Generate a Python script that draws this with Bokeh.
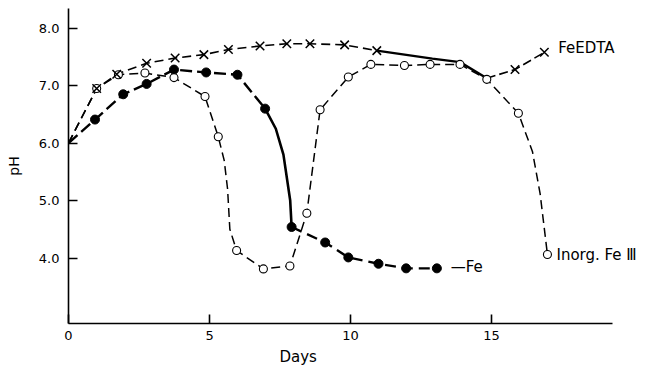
from bokeh.plotting import figure
from bokeh.models import Label, FixedTicker, Range1d, CustomJSTickFormatter, Title
from bokeh.embed import file_html
from bokeh.resources import INLINE

# ---------------- data ----------------
# FeEDTA: X markers
feedta_days = [1.0, 1.71, 2.77, 3.78, 4.8, 5.67, 6.79, 7.74, 8.56, 9.79, 10.93, 15.83, 16.87]
feedta_ph = [6.95, 7.2, 7.39, 7.48, 7.54, 7.63, 7.69, 7.73, 7.73, 7.71, 7.61, 7.28, 7.58]
# FeEDTA curve path
feedta_path_days = [0, 1.0, 1.71, 2.77, 3.78, 4.8, 5.67, 6.79, 7.74, 8.56, 9.79, 10.93,
                    12.9, 13.88, 14.83, 15.83, 16.87]
feedta_path_ph = [6.0, 6.95, 7.2, 7.39, 7.48, 7.54, 7.63, 7.69, 7.73, 7.73, 7.71, 7.61,
                  7.47, 7.41, 7.13, 7.28, 7.58]

# Fe: filled circles
fe_days = [0.94, 1.94, 2.77, 3.74, 4.88, 5.99, 6.97, 7.91, 9.1, 9.92, 10.99, 11.97, 13.06]
fe_ph = [6.41, 6.85, 7.03, 7.28, 7.23, 7.19, 6.6, 4.54, 4.27, 4.01, 3.9, 3.82, 3.82]
fe_path_days = [0, 0.94, 1.94, 2.77, 3.74, 4.88, 5.99, 6.97, 7.35, 7.62, 7.86, 7.91, 9.1,
                9.92, 10.99, 11.97, 13.06]
fe_path_ph = [6.0, 6.41, 6.85, 7.03, 7.28, 7.23, 7.19, 6.6, 6.25, 5.8, 5.0, 4.54, 4.27,
              4.01, 3.9, 3.82, 3.82]

# Inorg. Fe III: open circles
inorg_days = [1.0, 1.77, 2.71, 3.74, 4.84, 5.31, 5.96, 6.91, 7.85, 8.45, 8.92, 9.92, 10.72,
              11.91, 12.82, 13.88, 14.83, 15.95, 16.98]
inorg_ph = [6.95, 7.19, 7.22, 7.14, 6.81, 6.11, 4.13, 3.81, 3.86, 4.78, 6.58, 7.15, 7.37,
            7.35, 7.37, 7.37, 7.11, 6.52, 4.06]
inorg_path_days = [0, 1.0, 1.77, 2.71, 3.74, 4.84, 5.31, 5.52, 5.64, 5.72, 5.96, 6.91, 7.85,
                   8.45, 8.92, 9.92, 10.72, 11.91, 12.82, 13.88, 14.83, 15.95, 16.45,
                   16.72, 16.98]
inorg_path_ph = [6.0, 6.95, 7.19, 7.22, 7.14, 6.81, 6.11, 5.7, 5.2, 4.5, 4.13, 3.81, 3.86,
                 4.78, 6.58, 7.15, 7.37, 7.35, 7.37, 7.37, 7.11, 6.52, 5.85, 5.12, 4.06]

x_ticks = [0, 5, 10, 15]
y_ticks = [4, 5, 6, 7, 8]
series_labels = ["FeEDTA", "\u2014Fe", "Inorg. Fe \u2162"]

FONT = "DejaVu Sans"

p = figure(width=665, height=369, output_backend="svg", toolbar_location=None,
           x_range=Range1d(0, 20.74), y_range=Range1d(2.86, 8.343),
           min_border_left=68, min_border_right=12, min_border_top=8, min_border_bottom=46)
p.outline_line_color = None
p.xgrid.visible = False
p.ygrid.visible = False
p.background_fill_color = "white"

# axes
for ax in (p.xaxis[0], p.yaxis[0]):
    ax.axis_line_width = 1.6
    ax.major_tick_line_width = 1.6
    ax.major_tick_in = 9
    ax.major_tick_out = 0
    ax.minor_tick_line_color = None
    ax.major_label_text_font = FONT
    ax.major_label_text_font_size = "13px"
    ax.major_label_text_color = "black"
    ax.axis_line_color = "black"
    ax.major_tick_line_color = "black"

p.xaxis.ticker = FixedTicker(ticks=x_ticks)
p.xaxis.bounds = (0, 19.3)
p.xaxis.major_label_standoff = 7
p.yaxis.ticker = FixedTicker(ticks=y_ticks)
p.yaxis.bounds = (2.86, 8.34)
p.yaxis.major_label_standoff = 9
p.yaxis.formatter = CustomJSTickFormatter(code="return tick.toFixed(1);")
p.yaxis.axis_label = "pH"
p.yaxis.axis_label_text_font = FONT
p.yaxis.axis_label_text_font_size = "14px"
p.yaxis.axis_label_text_font_style = "normal"
p.yaxis.axis_label_text_color = "black"
p.yaxis.axis_label_standoff = 14

# x axis title placed as a title below the axis
p.add_layout(Title(text="Days", align="left", offset=211, text_font=FONT,
                   text_font_size="15px", text_font_style="normal", text_color="black",
                   standoff=6), "below")

# FeEDTA line: dashed, solid, dashed
i1 = feedta_path_days.index(10.93)
i2 = feedta_path_days.index(14.83)
p.line(feedta_path_days[:i1 + 1], feedta_path_ph[:i1 + 1], line_color="black",
       line_width=1.6, line_dash="9 5")
p.line(feedta_path_days[i1:i2 + 1], feedta_path_ph[i1:i2 + 1], line_color="black",
       line_width=2.4)
p.line(feedta_path_days[i2:], feedta_path_ph[i2:], line_color="black",
       line_width=1.6, line_dash="9 4")

# Fe line: dashed, solid, dashed
j1 = fe_path_days.index(6.97)
j2 = fe_path_days.index(7.91)
p.line(fe_path_days[:j1 + 1], fe_path_ph[:j1 + 1], line_color="black",
       line_width=2.4, line_dash="12 5")
p.line(fe_path_days[j1:j2 + 1], fe_path_ph[j1:j2 + 1], line_color="black", line_width=2.6)
p.line(fe_path_days[j2:], fe_path_ph[j2:], line_color="black",
       line_width=2.4, line_dash="11 6")

# Inorg line
p.line(inorg_path_days, inorg_path_ph, line_color="black", line_width=1.5, line_dash="9 5")

# markers
p.scatter(fe_days, fe_ph, marker="circle", size=9, fill_color="black", line_color="black")
p.scatter(inorg_days, inorg_ph, marker="circle", size=8, fill_color="white",
          line_color="black", line_width=1.1)
p.scatter(feedta_days, feedta_ph, marker="x", size=12, line_color="black", line_width=1.5)

# series labels
p.add_layout(Label(x=17.36, y=7.65, text=series_labels[0], text_font=FONT,
                   text_font_size="15px", text_baseline="middle", text_color="black"))
p.add_layout(Label(x=13.55, y=3.84, text=series_labels[1], text_font=FONT,
                   text_font_size="15px", text_baseline="middle", text_color="black"))
p.add_layout(Label(x=17.3, y=4.06, text=series_labels[2], text_font=FONT,
                   text_font_size="15px", text_baseline="middle", text_color="black"))

open("out.html", "w").write(file_html(p, INLINE))
